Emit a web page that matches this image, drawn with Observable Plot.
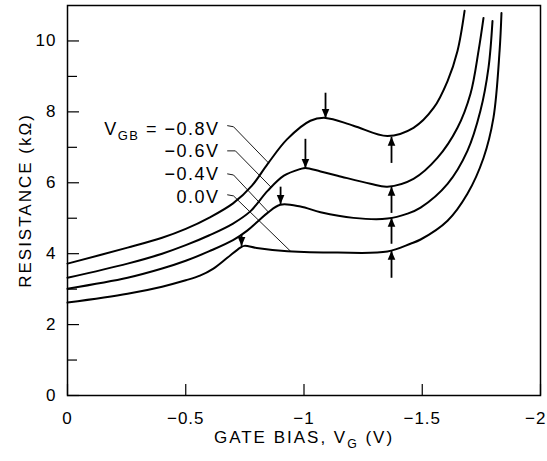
<!DOCTYPE html>
<html><head><meta charset="utf-8">
<script src="https://cdn.jsdelivr.net/npm/d3@7"></script>
<script src="https://cdn.jsdelivr.net/npm/@observablehq/plot@0.6"></script>
<style>body{margin:0;background:#fff}</style>
</head><body><div id="chart"></div>
<script>
// Gate bias V_G (V) vs resistance (kOhm), one list per V_GB value
const seriesNames = ["−0.8", "−0.6", "−0.4", "0.0"];
const vgbMinus08 = [[0,3.72],[-0.254,4.17],[-0.4,4.45],[-0.5,4.7],[-0.6,5.02],[-0.7,5.42],[-0.78,5.92],[-0.845,6.52],[-0.929,7.23],[-1.027,7.75],[-1.091,7.83],[-1.209,7.61],[-1.353,7.32],[-1.463,7.55],[-1.548,8.11],[-1.607,8.87],[-1.649,9.72],[-1.679,10.85]];
const vgbMinus06 = [[0,3.32],[-0.254,3.72],[-0.4,4.0],[-0.5,4.24],[-0.6,4.52],[-0.7,4.85],[-0.774,5.2],[-0.846,5.77],[-0.915,6.2],[-0.985,6.39],[-1.006,6.42],[-1.07,6.32],[-1.142,6.2],[-1.281,5.97],[-1.353,5.89],[-1.463,6.11],[-1.564,6.70],[-1.649,7.55],[-1.704,8.51],[-1.738,9.72],[-1.759,10.65]];
const vgbMinus04 = [[0,3.01],[-0.254,3.32],[-0.4,3.58],[-0.5,3.8],[-0.6,4.07],[-0.7,4.38],[-0.76,4.65],[-0.803,4.9],[-0.846,5.15],[-0.90,5.38],[-0.985,5.33],[-1.07,5.17],[-1.209,5.01],[-1.353,4.99],[-1.438,5.13],[-1.493,5.30],[-1.607,5.97],[-1.691,6.9],[-1.746,8.03],[-1.78,9.24],[-1.797,10.56]];
const vgbZero = [[0,2.62],[-0.254,2.87],[-0.4,3.07],[-0.5,3.25],[-0.56,3.38],[-0.617,3.58],[-0.677,3.89],[-0.731,4.17],[-0.748,4.22],[-0.80,4.16],[-0.93,4.07],[-1.142,4.03],[-1.353,4.06],[-1.45,4.28],[-1.493,4.40],[-1.607,4.93],[-1.691,5.69],[-1.759,6.7],[-1.801,7.83],[-1.827,9.72],[-1.835,10.79]];

// arrows: [x, tail, tip]
const downArrows = [[-1.091,8.54,7.83],[-1.006,7.24,6.42],[-0.901,5.89,5.40],[-0.736,4.54,4.22]];
const upArrows = [[-1.370,6.56,7.30],[-1.370,5.15,5.89],[-1.370,4.28,5.01],[-1.370,3.32,4.08]];

// curve labels and leader lines
const labelTexts = ["V_{GB} = −0.8V", "−0.6V", "−0.4V", "0.0V"];
const labelX = [-0.643, -0.643, -0.643, -0.643];
const labelY = [7.52, 6.90, 6.23, 5.58];
const leaderPoints = [
  [[-0.677,7.61],[-0.702,7.58],[-0.850,6.56]],
  [[-0.677,6.90],[-0.710,6.90],[-0.860,5.88]],
  [[-0.677,6.25],[-0.702,6.22],[-0.850,5.17]],
  [[-0.677,5.66],[-0.702,5.63],[-0.943,4.07]]
];

const xTicks = [0, -0.5, -1, -1.5, -2];
const yTicks = [0, 2, 4, 6, 8, 10];
const yMinorTicks = [1, 3, 5, 7, 9];
const xTitle = "GATE BIAS, V_{G} (V)";
const yTitle = "RESISTANCE (kΩ)";

const curves = [vgbMinus08, vgbMinus06, vgbMinus04, vgbZero]
  .flatMap((pts, i) => pts.map(([v, r]) => ({v, r, s: seriesNames[i]})));
const leaders = leaderPoints.flatMap((pts, i) => pts.map(([v, r]) => ({v, r, s: i})));
const labels = labelTexts.map((t, i) => ({t, x: labelX[i], y: labelY[i]}));
const arrows = [
  ...downArrows.map(([x, a, b]) => ({x, tail: a, tip: b, rot: 0})),
  ...upArrows.map(([x, a, b]) => ({x, tail: a, tip: b, rot: 180}))
];

const headSymbol = {draw(ctx) { ctx.moveTo(0, 0); ctx.lineTo(-3.8, -9); ctx.lineTo(3.8, -9); ctx.closePath(); }};
const minus = d => d === 0 ? "0" : (d < 0 ? "−" : "") + Math.abs(d);

const chart = Plot.plot({
  width: 547, height: 461,
  marginLeft: 67, marginRight: 7, marginTop: 5, marginBottom: 66,
  x: {domain: [0, -2]},
  y: {domain: [0, 11]},
  style: {fontFamily: "'Liberation Sans', Arial, sans-serif", fontSize: "17px", color: "black", background: "white"},
  marks: [
    Plot.frame({stroke: "black", strokeWidth: 1.5}),
    Plot.axisY({ticks: yTicks, tickSize: 12, dx: 12, text: null, label: null, strokeWidth: 1.2}),
    Plot.axisY({ticks: yMinorTicks, tickSize: 10, dx: 10, text: null, label: null, strokeWidth: 1.2}),
    Plot.axisY({ticks: yTicks, tickSize: 0, tickPadding: 11, label: null, tickFormat: d => String(d)}),
    Plot.axisX({ticks: xTicks, tickSize: 11, dy: -11, text: null, label: null, strokeWidth: 1.2}),
    Plot.axisX({ticks: xTicks, tickSize: 0, tickPadding: 16, label: null, tickFormat: minus}),
    Plot.line(curves, {x: "v", y: "r", z: "s", curve: "catmull-rom", stroke: "black", strokeWidth: 2}),
    Plot.line(leaders, {x: "v", y: "r", z: "s", stroke: "black", strokeWidth: 0.9}),
    Plot.link(arrows, {x1: "x", x2: "x", y1: "tail", y2: "tip", stroke: "black", strokeWidth: 1.8}),
    Plot.dot(arrows, {x: "x", y: "tip", rotate: "rot", symbol: headSymbol, fill: "black", stroke: "none"}),
    Plot.text(labels, {x: "x", y: "y", text: "t", textAnchor: "end", fontSize: 18}),
    Plot.text([yTitle], {frameAnchor: "left", textAnchor: "middle", rotate: -90, dx: -42, fontSize: 17}),
    Plot.text([xTitle], {frameAnchor: "bottom", textAnchor: "middle", dy: 47, fontSize: 17})
  ]
});

const svg = d3.select(chart);
// letter spacing to mimic the wide drafting lettering
svg.selectAll("text").each(function() {
  const t = this.textContent;
  if (t === xTitle || t === yTitle) d3.select(this).style("letter-spacing", "2px");
  else if (labelTexts.includes(t)) d3.select(this).style("letter-spacing", "1.5px");
  else d3.select(this).style("letter-spacing", "1px");
  if (t === "−2") d3.select(this).attr("text-anchor", "end").attr("dx", 6);
});

// subscripts written as _{...}
svg.selectAll("text").each(function() {
  const t = this.textContent;
  if (!t.includes("_{")) return;
  const sel = d3.select(this);
  sel.text(null);
  const re = /_\{([^}]*)\}/g;
  let last = 0, m, shift = false;
  while ((m = re.exec(t))) {
    const a = sel.append("tspan").text(t.slice(last, m.index));
    if (shift) a.attr("dy", -5);
    sel.append("tspan").attr("font-size", "0.72em").attr("dy", 5).text(m[1]);
    shift = true;
    last = re.lastIndex;
  }
  const b = sel.append("tspan").text(t.slice(last));
  if (shift) b.attr("dy", -5);
});

document.getElementById("chart").append(chart);
</script>
</body></html>
